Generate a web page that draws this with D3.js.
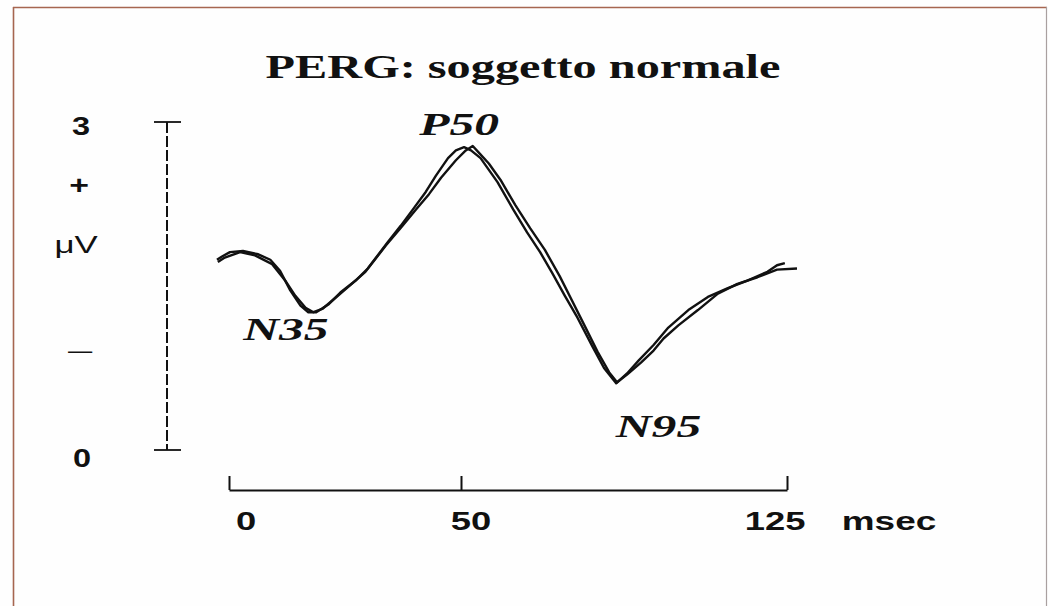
<!DOCTYPE html>
<html><head><meta charset="utf-8">
<script src="https://cdn.jsdelivr.net/npm/d3@7"></script>
<style>
html,body{margin:0;padding:0;background:#fefefe;}
svg{display:block;}
</style></head>
<body>
<svg id="chart" width="1048" height="606"></svg>
<script>
// ---- data ----
const title = "PERG: soggetto normale";
const xTicks = [0, 50, 125];
const xTickLabels = ["0", "50", "125"];
const xUnit = "msec";
const yTicks = [0, 3];
const yTickLabels = ["0", "3"];
const ySigns = ["+", "μV", "—"];
// trace 1: [ms, µV]
const trace1Ms = [-2.6,-1.5,0.2,3.0,6.3,8.9,11.0,13.2,15.4,17.1,18.8,21.4,24.0,27.3,29.9,34.2,37.0,39.8,42.4,44.6,47.2,48.9,50.7,52.3,54.5,58.4,62.0,65.2,68.2,71.1,73.9,76.8,80.2,82.9,85.7,88.2,90.9,94.3,97.7,102.3,106.8,111.4,115.9,120.5,122.7,124.5];
const trace1Uv = [1.74,1.77,1.81,1.82,1.79,1.74,1.64,1.46,1.32,1.26,1.26,1.33,1.44,1.55,1.66,1.90,2.05,2.21,2.36,2.51,2.67,2.74,2.77,2.74,2.67,2.45,2.20,1.99,1.81,1.61,1.41,1.21,0.95,0.75,0.61,0.70,0.82,0.96,1.12,1.28,1.40,1.48,1.55,1.63,1.69,1.71];
// trace 2: [ms, µV]
const trace2Ms = [-2.4,-0.9,2.4,5.6,9.3,12.1,14.3,16.5,18.2,20.1,22.9,26.2,29.4,33.8,37.0,40.3,43.1,45.7,48.9,51.1,52.7,54.1,56.4,59.1,62.5,65.9,69.3,72.7,75.5,78.4,81.4,84.1,85.9,88.2,91.4,94.3,96.6,100.0,104.5,109.1,113.6,118.2,122.7,127.3];
const trace2Uv = [1.72,1.76,1.81,1.78,1.70,1.55,1.41,1.30,1.26,1.29,1.39,1.51,1.63,1.87,2.03,2.20,2.34,2.49,2.65,2.74,2.78,2.72,2.62,2.47,2.24,2.03,1.83,1.59,1.37,1.14,0.90,0.71,0.62,0.69,0.80,0.91,1.02,1.14,1.28,1.43,1.52,1.58,1.65,1.66];
const peakNames = ["N35", "P50", "N95"];
const peakMs = [18.5, 50.5, 86];
const peakUv = [1.26, 2.77, 0.61];

// ---- drawing ----
const svg = d3.select("#chart");
svg.append("rect").attr("x",0).attr("y",0).attr("width",1048).attr("height",606).attr("fill","#fefefe");
// frame
svg.append("line").attr("x1",13.5).attr("y1",7).attr("x2",13.5).attr("y2",606).attr("stroke","#a66650").attr("stroke-width",1.6);
svg.append("line").attr("x1",13).attr("y1",7.5).attr("x2",1047).attr("y2",7.5).attr("stroke","#a66650").attr("stroke-width",1.6);
svg.append("line").attr("x1",1046.5).attr("y1",7).attr("x2",1046.5).attr("y2",606).attr("stroke","#a9a0a0").attr("stroke-width",1.2);

const x = d3.scaleLinear().domain([0, 50, 125]).range([229, 461, 787]);
const y = d3.scaleLinear().domain([0, 3]).range([450, 122]);

function label(px, py, str, o) {
  const g = svg.append("g").attr("transform", `translate(${px},${py}) scale(${o.sx||1},1)`);
  g.append("text").text(str)
    .attr("text-anchor", o.anchor || "middle")
    .attr("font-family", o.family)
    .attr("font-size", o.size)
    .attr("font-weight", o.weight || "normal")
    .attr("font-style", o.style || "normal")
    .attr("fill", "#111");
}

// title
label(523, 78, title, {family:"'Liberation Serif','Times New Roman',serif", size:34, weight:"bold", sx:1.42});

// y axis: dashed bar with caps
const yAxisX = 167;
svg.append("line").attr("x1",yAxisX).attr("x2",yAxisX).attr("y1",y(3)).attr("y2",y(0))
  .attr("stroke","#111").attr("stroke-width",2).attr("stroke-dasharray","11,3");
yTicks.forEach(t => {
  svg.append("line").attr("x1",yAxisX-13).attr("x2",yAxisX+14).attr("y1",y(t)).attr("y2",y(t))
    .attr("stroke","#111").attr("stroke-width",1.8);
});
const sansF = "'Liberation Sans',Arial,sans-serif";
label(81, y(3)+13, yTickLabels[1], {family:sansF, size:26, weight:"bold", sx:1.25});
label(82, y(0)+17, yTickLabels[0], {family:sansF, size:26, weight:"bold", sx:1.25});
label(79, 194, ySigns[0], {family:sansF, size:26, weight:"bold", sx:1.3});
label(76, 253, ySigns[1], {family:sansF, size:24, sx:1.45});
label(80, 358, ySigns[2], {family:sansF, size:22, sx:1.1});

// x axis
const xAxis = d3.axisBottom(x).tickValues(xTicks).tickSizeInner(-14).tickSizeOuter(0).tickFormat("");
const gx = svg.append("g").attr("transform","translate(0,490)").call(xAxis);
gx.select(".domain").attr("stroke","#111").attr("stroke-width",2);
gx.selectAll(".tick line").attr("stroke","#111").attr("stroke-width",2);
const xLabOff = [17, 10, -12];
xTicks.forEach((t,i) => {
  label(x(t)+xLabOff[i], 530, xTickLabels[i], {family:sansF, size:26, weight:"bold", sx:1.4});
});
label(889, 530, xUnit, {family:sansF, size:26, weight:"bold", sx:1.42});

// traces
const line = d3.line().x(d => x(d[0])).y(d => y(d[1]));
const t1 = trace1Ms.map((m,i) => [m, trace1Uv[i]]);
const t2 = trace2Ms.map((m,i) => [m, trace2Uv[i]]);
[t1, t2].forEach(t => {
  svg.append("path").datum(t).attr("d", line).attr("fill","none")
    .attr("stroke","#111").attr("stroke-width",2.4).attr("stroke-linejoin","round");
});

// peak labels
const serifF = "'Liberation Serif','Times New Roman',serif";
const peakDx = [-29, -4, 41];
const peakDy = [28, -12, 54];
peakNames.forEach((n,i) => {
  label(x(peakMs[i])+peakDx[i], y(peakUv[i])+peakDy[i], n,
    {family:serifF, size:31, style:"italic", weight: "bold", sx:1.6});
});
</script>
</body></html>
